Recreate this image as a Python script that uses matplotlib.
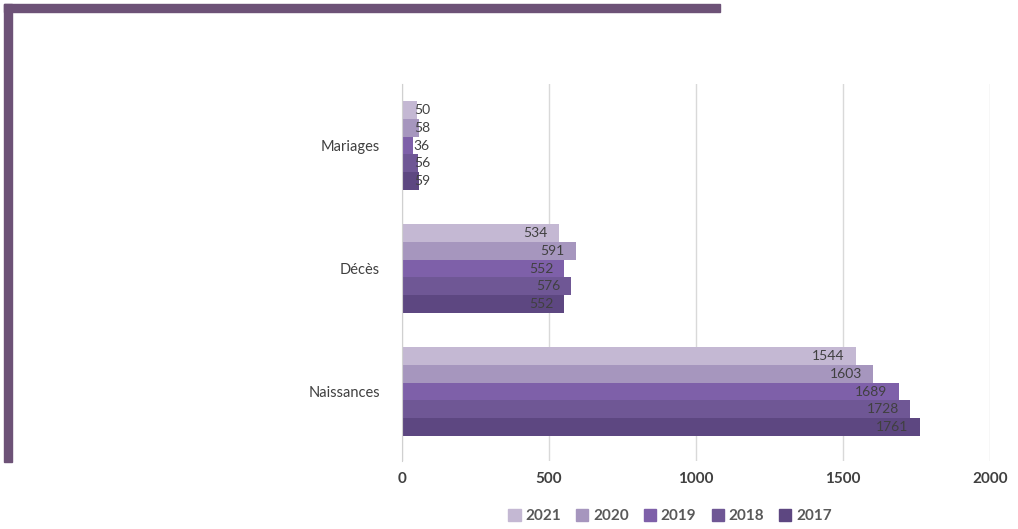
import matplotlib.pyplot as plt
from matplotlib.patches import Rectangle
import numpy as np

categories = ["Naissances", "Décès", "Mariages"]
years = ["2021", "2020", "2019", "2018", "2017"]
values = {
    "2021": [1544, 534, 50],
    "2020": [1603, 591, 58],
    "2019": [1689, 552, 36],
    "2018": [1728, 576, 56],
    "2017": [1761, 552, 59],
}
colors = ["#c4b8d3", "#a696be", "#7e60a9", "#6f5795", "#5d4781"]

plt.rcParams['font.family'] = ['Lato', 'DejaVu Sans']
W, H = 1018, 529
fig = plt.figure(figsize=(W / 100, H / 100), dpi=100)

# decorative frame
fig.patches.append(Rectangle((4 / W, 1 - 12 / H), 716 / W, 8 / H,
                             transform=fig.transFigure, color="#6d5277", zorder=0))
fig.patches.append(Rectangle((4 / W, 1 - 462 / H), 8 / W, 458 / H,
                             transform=fig.transFigure, color="#6d5277", zorder=0))

ax = fig.add_axes([402 / W, 1 - 461 / H, 588 / W, 377 / H])

y = np.arange(len(categories))
bh = 0.146
for i, yr in enumerate(years):
    off = (2 - i) * bh
    ax.barh(y + off, values[yr], height=bh, color=colors[i], zorder=2)
    for j, v in enumerate(values[yr]):
        if v < 100:
            ax.text(40, y[j] + off, str(v), ha="left", va="center",
                    fontsize=10, color="#404040", zorder=3)
        else:
            ax.annotate(str(v), (v, y[j] + off), xytext=(-8, 0),
                        textcoords="offset points", ha="right", va="center",
                        fontsize=10, color="#404040", zorder=3)

ax.set_xlim(0, 2000)
ax.set_ylim(-0.565, 2.5)
ax.set_xticks([0, 500, 1000, 1500, 2000])
ax.set_yticks(y)
ax.set_yticklabels(categories)
ax.grid(axis="x", color="#d9d9d9", lw=1, zorder=0)
ax.tick_params(axis="x", length=0, pad=8, labelsize=11, labelcolor="#404040")
ax.tick_params(axis="y", length=0, pad=16, labelsize=10.5, labelcolor="#404040")
for lbl in ax.get_xticklabels():
    lbl.set_fontweight("bold")
for s in ["top", "right", "bottom"]:
    ax.spines[s].set_visible(False)
ax.spines["left"].set_color("#d0d0d0")

handles = [Rectangle((0, 0), 1, 1, color=c) for c in colors]
leg = fig.legend(handles, years, loc="center", bbox_to_anchor=(670 / W, 1 - 516 / H),
                 ncol=5, frameon=False, handlelength=0.8, handleheight=0.8,
                 handletextpad=0.3, columnspacing=1.0,
                 prop={"size": 11, "weight": "bold"})
for t in leg.get_texts():
    t.set_color("#595959")

fig.savefig("out.png", dpi=100)
